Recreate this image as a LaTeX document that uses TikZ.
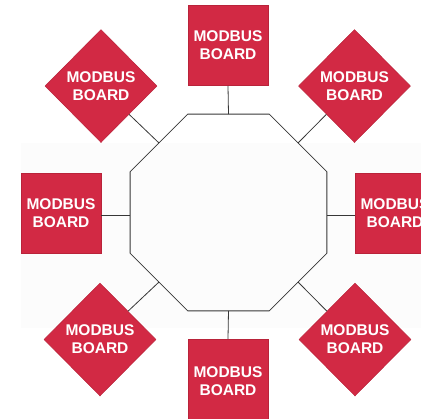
\documentclass[tikz,border=0pt]{standalone}
\usepackage{fontspec}
\setmainfont{Liberation Sans}
\usetikzlibrary{shapes.geometric}
\definecolor{boardred}{RGB}{210,41,68}
\definecolor{boardedge}{RGB}{185,35,58}
\definecolor{wire}{RGB}{55,55,55}
\definecolor{bgpale}{RGB}{252,252,252}
\tikzset{
  board/.style={rectangle, fill=boardred, draw=boardedge, line width=0.5bp,
    minimum width=80bp, minimum height=80bp, inner sep=0pt, text=white,
    font=\fontsize{15.5bp}{18bp}\selectfont\bfseries, align=center},
  boarddia/.style={diamond, aspect=1, fill=boardred, draw=boardedge, line width=0.5bp,
    minimum width=112bp, minimum height=113bp, inner sep=0pt, text=white,
    font=\fontsize{15.5bp}{18bp}\selectfont\bfseries, align=center},
  hub/.style={regular polygon, regular polygon sides=8, draw=wire, line width=0.8bp,
    minimum size=213bp, inner sep=0pt, outer sep=0pt},
  wireline/.style={draw=wire, line width=0.8bp}
}
\begin{document}
\begin{tikzpicture}[x=1bp,y=-1bp]
\useasboundingbox (0,0) rectangle (421,419);
\clip (0,0) rectangle (421,419);
\fill[bgpale] (21,143) rectangle (421,328);
\node[hub] (oct) at (228.5,212.5) {};
\node[board] (top) at (228,45.5) {MODBUS\\BOARD};
\node[board] (left) at (61,213) {MODBUS\\BOARD};
\node[board] (right) at (395,213) {MODBUS\\BOARD};
\node[board, minimum height=84bp] (bottom) at (228,381) {MODBUS\\BOARD};
\node[boarddia] (ul) at (101,86) {MODBUS\\BOARD};
\node[boarddia] (ur) at (354.5,86) {MODBUS\\BOARD};
\node[boarddia] (ll) at (100,339.5) {MODBUS\\BOARD};
\node[boarddia] (lr) at (355,339.5) {MODBUS\\BOARD};
\draw[wireline] (top.south) -- (oct.90);
\draw[wireline] (bottom.north) -- (oct.270);
\draw[wireline] ([yshift=-2.5bp]left.east) -- ([yshift=-2.5bp]left.east -| oct.west);
\draw[wireline] ([yshift=-2.5bp]right.west) -- ([yshift=-2.5bp]right.west -| oct.east);
\draw[wireline] (ul.south east) -- (oct.135);
\draw[wireline] (ur.south west) -- (oct.45);
\draw[wireline] (ll.north east) -- (oct.225);
\draw[wireline] (lr.north west) -- (oct.315);
\end{tikzpicture}
\end{document}
